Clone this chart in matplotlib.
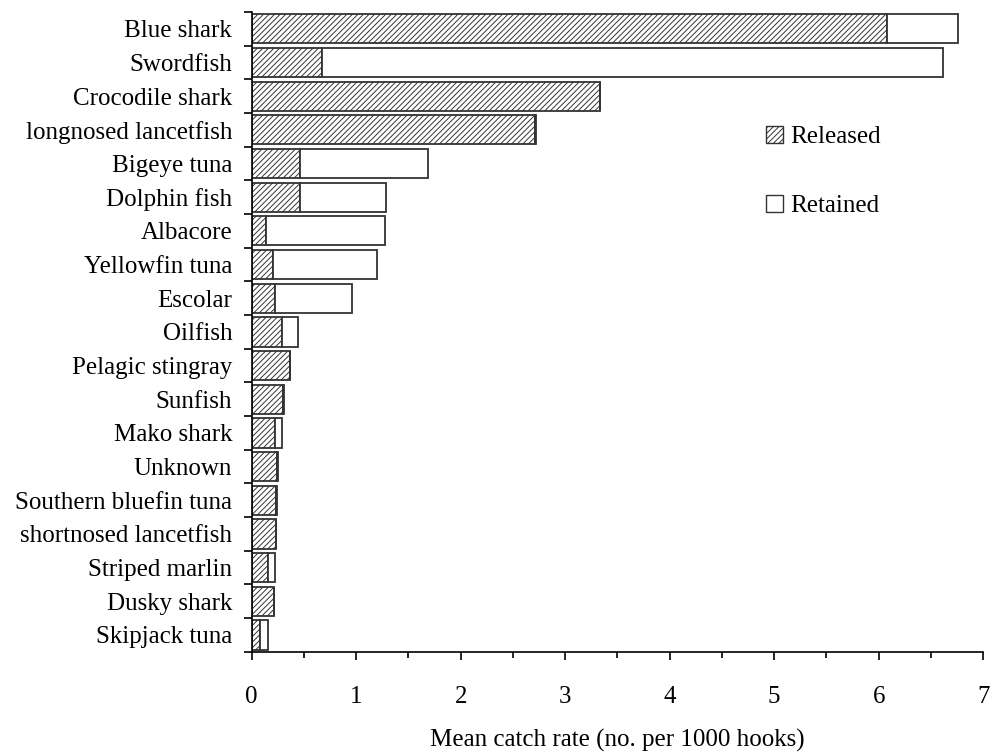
import numpy as np
import matplotlib.pyplot as plt
from matplotlib.patches import Patch

plt.rcParams['font.family'] = ['Liberation Serif', 'DejaVu Serif']
plt.rcParams['hatch.linewidth'] = 0.7
plt.rcParams['hatch.color'] = '#555555'

species = ["Blue shark", "Swordfish", "Crocodile shark", "longnosed lancetfish",
           "Bigeye tuna", "Dolphin fish", "Albacore", "Yellowfin tuna", "Escolar",
           "Oilfish", "Pelagic stingray", "Sunfish", "Mako shark", "Unknown",
           "Southern bluefin tuna", "shortnosed lancetfish", "Striped marlin",
           "Dusky shark", "Skipjack tuna"]
released = [6.08, 0.67, 3.33, 2.71, 0.46, 0.46, 0.14, 0.20, 0.22,
            0.29, 0.37, 0.30, 0.22, 0.24, 0.23, 0.23, 0.16, 0.21, 0.08]
retained = [0.68, 5.94, 0.00, 0.01, 1.23, 0.83, 1.14, 1.00, 0.74,
            0.15, 0.00, 0.01, 0.07, 0.01, 0.01, 0.00, 0.06, 0.00, 0.08]

fs = 18
fig = plt.figure(figsize=(9.92, 7.55), dpi=100)
ax = fig.add_axes([0.2537, 0.1368, 0.7375, 0.8473])

y = np.arange(len(species))
h = 0.87
edge = '#333333'
ax.barh(y, released, height=h, color='white', edgecolor=edge, hatch='//////',
        linewidth=1.3, label='Released')
ax.barh(y, retained, left=released, height=h, color='white', edgecolor=edge,
        linewidth=1.3, label='Retained')

ax.set_ylim(len(species) - 0.5, -0.5)
ax.set_xlim(0, 7)

# category labels in the middle, tick marks on the boundaries
ax.set_yticks(y)
ax.set_yticklabels(species, fontsize=fs)
ax.tick_params(axis='y', which='major', length=0, pad=14)
ax.set_yticks(np.arange(-0.5, len(species), 1), minor=True)
ax.tick_params(axis='y', which='minor', length=6, width=1.2, direction='out')

ax.set_xticks(np.arange(0, 8, 1))
ax.set_xticks(np.arange(0.5, 7, 1), minor=True)
ax.tick_params(axis='x', which='major', length=6, width=1.2, pad=19, labelsize=fs)
ax.tick_params(axis='x', which='minor', length=4.5, width=1.2)

for s in ['top', 'right']:
    ax.spines[s].set_visible(False)
for s in ['left', 'bottom']:
    ax.spines[s].set_linewidth(1.2)

ax.set_xlabel("Mean catch rate (no. per 1000 hooks)", fontsize=fs, labelpad=14.5)

handles = [Patch(facecolor='white', edgecolor=edge, hatch='//////', linewidth=1),
           Patch(facecolor='white', edgecolor=edge, linewidth=1)]
ax.legend(handles, ['Released', 'Retained'], loc='upper left',
          bbox_to_anchor=(0.703, 0.822), frameon=False, fontsize=fs,
          borderpad=0, borderaxespad=0,
          handlelength=0.67, handleheight=0.67, handletextpad=0.3,
          labelspacing=1.87)

fig.savefig('out.png', dpi=100)
